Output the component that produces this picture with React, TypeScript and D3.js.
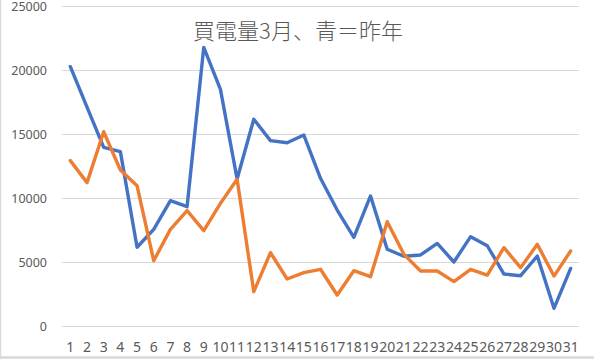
import { useEffect, useRef } from 'react';
import * as d3 from 'd3';

// 買電量 daily values, March (orange) vs last year (blue)
const DAYS = d3.range(1, 32).map(String);
const LAST_YEAR = [
  20260, 17100, 13960, 13620, 6150, 7550, 9790, 9320, 21770, 18490,
  11480, 16150, 14480, 14320, 14920, 11540, 9060, 6930, 10160, 6000,
  5450, 5550, 6450, 5000, 6980, 6270, 4060, 3930, 5470, 1380, 4500,
];
const THIS_YEAR = [
  12920, 11200, 15180, 12190, 10960, 5100, 7550, 9010, 7450, 9580,
  11460, 2680, 5730, 3670, 4170, 4430, 2420, 4320, 3850, 8150,
  5600, 4300, 4300, 3470, 4430, 3980, 6120, 4560, 6380, 3900, 5860,
];
const Y_TICKS = [0, 5000, 10000, 15000, 20000, 25000];
const TITLE = '買電量3月、青＝昨年';

const BLUE = '#4472C4';
const ORANGE = '#ED7D31';
const GRID = '#d9d9d9';
const TEXT = '#595959';

export default function App() {
  const svgRef = useRef<SVGSVGElement>(null);
  const width = 594;
  const height = 359;

  useEffect(() => {
    document.body.style.margin = '0';
    const svg = d3.select(svgRef.current);
    svg.selectAll('*').remove();

    const left = 62;
    const right = 579;
    const top = 6;
    const bottom = 326;

    const x = d3.scaleBand().domain(DAYS).range([left, right]);
    const y = d3.scaleLinear().domain([0, 25000]).range([bottom, top]);
    const cx = (i: number) => (x(DAYS[i]) ?? 0) + x.bandwidth() / 2;

    // outer chart border (left + bottom visible in crop)
    svg.append('line')
      .attr('x1', 0.5).attr('x2', 0.5).attr('y1', 0).attr('y2', height)
      .attr('stroke', GRID).attr('stroke-width', 1.5);
    svg.append('line')
      .attr('x1', 0).attr('x2', width).attr('y1', 357.5).attr('y2', 357.5)
      .attr('stroke', GRID).attr('stroke-width', 2.5);

    // gridlines + y labels
    for (const t of Y_TICKS) {
      const yy = Math.round(y(t)) + 0.5;
      svg.append('line')
        .attr('x1', left).attr('x2', right)
        .attr('y1', yy).attr('y2', yy)
        .attr('stroke', GRID).attr('stroke-width', 1);
      svg.append('text')
        .attr('x', 47).attr('y', yy)
        .attr('text-anchor', 'end')
        .attr('dominant-baseline', 'central')
        .attr('font-family', '"Noto Sans", sans-serif')
        .attr('font-size', 12.5)
        .attr('fill', TEXT)
        .text(String(t));
    }

    // x labels
    DAYS.forEach((d, i) => {
      svg.append('text')
        .attr('x', cx(i)).attr('y', 346)
        .attr('text-anchor', 'middle')
        .attr('dominant-baseline', 'central')
        .attr('font-family', '"Noto Sans", sans-serif')
        .attr('font-size', 14)
        .attr('fill', TEXT)
        .text(d);
    });

    // title
    svg.append('text')
      .attr('x', 298).attr('y', 29)
      .attr('text-anchor', 'middle')
      .attr('dominant-baseline', 'central')
      .attr('font-family', '"Noto Sans CJK JP", sans-serif')
      .attr('font-size', 22)
      .attr('font-weight', 300)
      .attr('fill', TEXT)
      .text(TITLE);

    const line = d3.line<number>()
      .x((_, i) => cx(i))
      .y((v) => y(v));

    for (const [data, color] of [[LAST_YEAR, BLUE], [THIS_YEAR, ORANGE]] as const) {
      svg.append('path')
        .datum(data as number[])
        .attr('d', line)
        .attr('fill', 'none')
        .attr('stroke', color)
        .attr('stroke-width', 3.4)
        .attr('stroke-linejoin', 'round')
        .attr('stroke-linecap', 'round');
    }
  }, []);

  return (
    <svg
      ref={svgRef}
      width={width}
      height={height}
      style={{ position: 'absolute', left: 0, top: 0, display: 'block', background: '#fff' }}
    />
  );
}
